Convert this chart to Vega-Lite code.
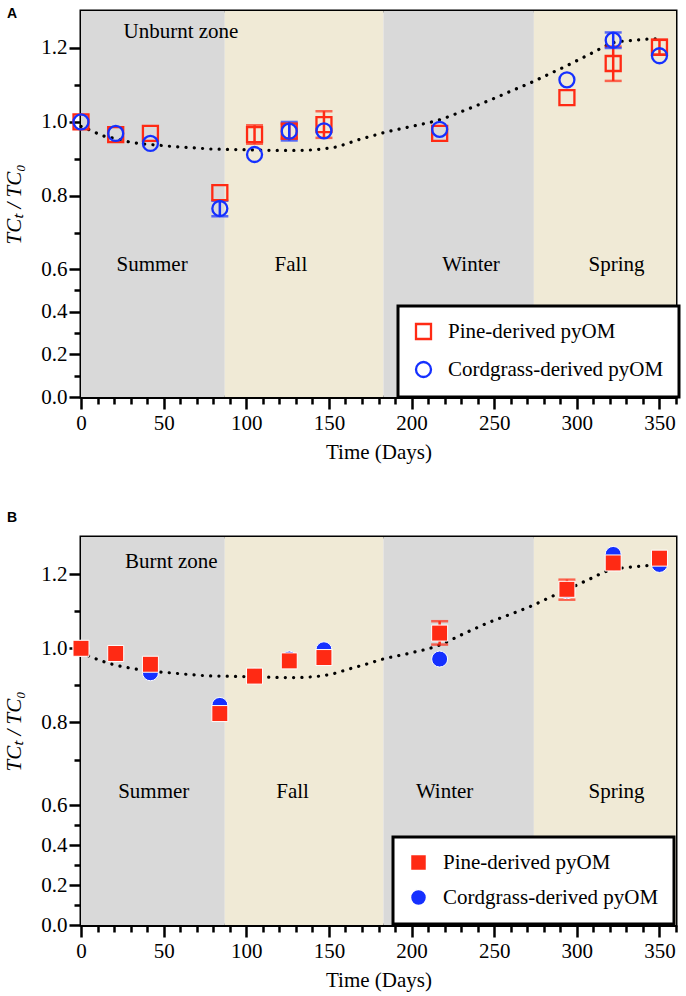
{
  "$schema": "https://vega.github.io/schema/vega-lite/v6.json",
  "background": "white",
  "padding": {"left": 2, "top": 5, "right": 5, "bottom": 5},
  "spacing": 45,
  "resolve": {
    "scale": {"color": "independent", "shape": "independent", "fill": "independent"},
    "legend": {"color": "independent", "shape": "independent", "fill": "independent"}
  },
  "datasets": {
    "seasons": [
      {"season": "Summer", "start": 0, "end": 87},
      {"season": "Fall", "start": 87, "end": 183},
      {"season": "Winter", "start": 183, "end": 274},
      {"season": "Spring", "start": 274, "end": 360}
    ],
    "labelsA": [
      {"text": "Summer", "day": 43, "value": 0.62},
      {"text": "Fall", "day": 127, "value": 0.62},
      {"text": "Winter", "day": 236, "value": 0.62},
      {"text": "Spring", "day": 324, "value": 0.62},
      {"text": "Unburnt zone", "day": 60.5, "value": 1.244}
    ],
    "labelsB": [
      {"text": "Summer", "day": 44, "value": 0.64},
      {"text": "Fall", "day": 128, "value": 0.64},
      {"text": "Winter", "day": 220, "value": 0.64},
      {"text": "Spring", "day": 324, "value": 0.64},
      {"text": "Burnt zone", "day": 54.6, "value": 1.232}
    ],
    "curveA": [
      {"day": 0, "value": 0.988}, {"day": 7, "value": 0.975}, {"day": 13, "value": 0.963},
      {"day": 21, "value": 0.955}, {"day": 27, "value": 0.948}, {"day": 35, "value": 0.942},
      {"day": 47, "value": 0.937}, {"day": 57, "value": 0.933}, {"day": 68, "value": 0.93},
      {"day": 78, "value": 0.927}, {"day": 88, "value": 0.926}, {"day": 98, "value": 0.925},
      {"day": 108, "value": 0.924}, {"day": 118, "value": 0.923}, {"day": 128, "value": 0.923},
      {"day": 138, "value": 0.924}, {"day": 148, "value": 0.928}, {"day": 155, "value": 0.933},
      {"day": 160, "value": 0.94}, {"day": 168, "value": 0.952}, {"day": 176, "value": 0.962},
      {"day": 184, "value": 0.972}, {"day": 200, "value": 0.988}, {"day": 217, "value": 1.006},
      {"day": 233, "value": 1.033}, {"day": 249, "value": 1.062}, {"day": 261, "value": 1.085},
      {"day": 273, "value": 1.108}, {"day": 283, "value": 1.129}, {"day": 293, "value": 1.15},
      {"day": 301, "value": 1.168}, {"day": 309, "value": 1.186}, {"day": 315, "value": 1.2},
      {"day": 321, "value": 1.213}, {"day": 327, "value": 1.218}, {"day": 333, "value": 1.22},
      {"day": 340, "value": 1.223}, {"day": 348, "value": 1.225}
    ],
    "curveB": [
      {"day": 0, "value": 0.99}, {"day": 2, "value": 0.985}, {"day": 10, "value": 0.97},
      {"day": 18, "value": 0.958}, {"day": 27, "value": 0.949}, {"day": 36, "value": 0.942},
      {"day": 46, "value": 0.937}, {"day": 56, "value": 0.933}, {"day": 66, "value": 0.929},
      {"day": 76, "value": 0.926}, {"day": 86, "value": 0.925}, {"day": 96, "value": 0.924},
      {"day": 106, "value": 0.923}, {"day": 116, "value": 0.922}, {"day": 126, "value": 0.921},
      {"day": 136, "value": 0.922}, {"day": 146, "value": 0.926}, {"day": 154, "value": 0.933},
      {"day": 162, "value": 0.944}, {"day": 166, "value": 0.949}, {"day": 174, "value": 0.959},
      {"day": 182, "value": 0.97}, {"day": 200, "value": 0.988}, {"day": 216, "value": 1.007},
      {"day": 231, "value": 1.038}, {"day": 247, "value": 1.07}, {"day": 260, "value": 1.092},
      {"day": 273, "value": 1.115}, {"day": 284, "value": 1.138}, {"day": 295, "value": 1.16},
      {"day": 307, "value": 1.185}, {"day": 319, "value": 1.209}, {"day": 325, "value": 1.215},
      {"day": 331, "value": 1.218}, {"day": 343, "value": 1.223}, {"day": 350, "value": 1.224}
    ],
    "pointsA": [
      {"series": "Pine-derived pyOM", "day": 0, "value": 1.0},
      {"series": "Pine-derived pyOM", "day": 21, "value": 0.966},
      {"series": "Pine-derived pyOM", "day": 42, "value": 0.969},
      {"series": "Pine-derived pyOM", "day": 84, "value": 0.809},
      {"series": "Pine-derived pyOM", "day": 105, "value": 0.966, "lo": 0.941, "hi": 0.991},
      {"series": "Pine-derived pyOM", "day": 126, "value": 0.975, "lo": 0.955, "hi": 0.995},
      {"series": "Pine-derived pyOM", "day": 147, "value": 0.993, "lo": 0.957, "hi": 1.029},
      {"series": "Pine-derived pyOM", "day": 217, "value": 0.969},
      {"series": "Pine-derived pyOM", "day": 294, "value": 1.066},
      {"series": "Pine-derived pyOM", "day": 322, "value": 1.158, "lo": 1.111, "hi": 1.204},
      {"series": "Pine-derived pyOM", "day": 350, "value": 1.202, "lo": 1.182, "hi": 1.222},
      {"series": "Cordgrass-derived pyOM", "day": 0, "value": 1.0},
      {"series": "Cordgrass-derived pyOM", "day": 21, "value": 0.969},
      {"series": "Cordgrass-derived pyOM", "day": 42, "value": 0.942},
      {"series": "Cordgrass-derived pyOM", "day": 84, "value": 0.766, "lo": 0.745, "hi": 0.787},
      {"series": "Cordgrass-derived pyOM", "day": 105, "value": 0.912},
      {"series": "Cordgrass-derived pyOM", "day": 126, "value": 0.975, "lo": 0.95, "hi": 1.0},
      {"series": "Cordgrass-derived pyOM", "day": 147, "value": 0.976},
      {"series": "Cordgrass-derived pyOM", "day": 217, "value": 0.98},
      {"series": "Cordgrass-derived pyOM", "day": 294, "value": 1.114},
      {"series": "Cordgrass-derived pyOM", "day": 322, "value": 1.221, "lo": 1.2, "hi": 1.242},
      {"series": "Cordgrass-derived pyOM", "day": 350, "value": 1.179}
    ],
    "pointsB": [
      {"series": "Cordgrass-derived pyOM", "day": 0, "value": 1.0},
      {"series": "Cordgrass-derived pyOM", "day": 21, "value": 0.985},
      {"series": "Cordgrass-derived pyOM", "day": 42, "value": 0.934},
      {"series": "Cordgrass-derived pyOM", "day": 84, "value": 0.846},
      {"series": "Cordgrass-derived pyOM", "day": 105, "value": 0.925},
      {"series": "Cordgrass-derived pyOM", "day": 126, "value": 0.971},
      {"series": "Cordgrass-derived pyOM", "day": 147, "value": 0.996},
      {"series": "Cordgrass-derived pyOM", "day": 217, "value": 0.971},
      {"series": "Cordgrass-derived pyOM", "day": 294, "value": 1.155},
      {"series": "Cordgrass-derived pyOM", "day": 322, "value": 1.253},
      {"series": "Cordgrass-derived pyOM", "day": 350, "value": 1.226},
      {"series": "Pine-derived pyOM", "day": 0, "value": 1.0},
      {"series": "Pine-derived pyOM", "day": 21, "value": 0.986},
      {"series": "Pine-derived pyOM", "day": 42, "value": 0.957},
      {"series": "Pine-derived pyOM", "day": 84, "value": 0.824},
      {"series": "Pine-derived pyOM", "day": 105, "value": 0.925},
      {"series": "Pine-derived pyOM", "day": 126, "value": 0.966},
      {"series": "Pine-derived pyOM", "day": 147, "value": 0.975},
      {"series": "Pine-derived pyOM", "day": 217, "value": 1.041, "lo": 1.01, "hi": 1.073},
      {"series": "Pine-derived pyOM", "day": 294, "value": 1.159, "lo": 1.131, "hi": 1.185},
      {"series": "Pine-derived pyOM", "day": 322, "value": 1.23},
      {"series": "Pine-derived pyOM", "day": 350, "value": 1.243}
    ]
  },
  "vconcat": [
    {
      "width": 595,
      "height": 386,
      "title": {"text": "A", "anchor": "start", "frame": "group", "font": "Liberation Sans", "fontSize": 14, "fontWeight": "bold", "color": "black", "dx": -74, "offset": -10, "baseline": "top"},
      "layer": [
        {
          "data": {"name": "seasons"},
          "mark": {"type": "rect"},
          "encoding": {
            "x": {"field": "start", "type": "quantitative", "title": "Time (Days)",
              "scale": {"domain": [0, 360], "nice": false, "zero": false},
              "axis": {"values": [0,10,20,30,40,50,60,70,80,90,100,110,120,130,140,150,160,170,180,190,200,210,220,230,240,250,260,270,280,290,300,310,320,330,340,350,360],
                "labelExpr": "datum.value % 50 === 0 ? datum.label : ''",
                "tickSize": {"condition": {"test": "datum.value % 50 === 0", "value": 12}, "value": 7},
                "labelFlush": false, "labelOverlap": false, "labelPadding": 3, "titlePadding": 8}},
            "x2": {"field": "end"},
            "fill": {"field": "season", "type": "nominal", "legend": null,
              "scale": {"domain": ["Summer", "Fall", "Winter", "Spring"], "range": ["#d9d9d9", "#f0ead6", "#d9d9d9", "#f0ead6"]}}
          }
        },
        {
          "data": {"name": "labelsA"},
          "mark": {"type": "text", "font": "Liberation Serif", "fontSize": 21, "color": "black", "align": "center", "baseline": "middle"},
          "encoding": {
            "x": {"field": "day", "type": "quantitative", "title": "Time (Days)",
              "scale": {"domain": [0, 360], "nice": false, "zero": false},
              "axis": {"values": [0,10,20,30,40,50,60,70,80,90,100,110,120,130,140,150,160,170,180,190,200,210,220,230,240,250,260,270,280,290,300,310,320,330,340,350,360],
                "labelExpr": "datum.value % 50 === 0 ? datum.label : ''",
                "tickSize": {"condition": {"test": "datum.value % 50 === 0", "value": 12}, "value": 7},
                "labelFlush": false, "labelOverlap": false, "labelPadding": 3, "titlePadding": 8}},
            "y": {"field": "value", "type": "quantitative", "title": "TCₜ / TC₀",
              "scale": {"domain": [0, 0.63, 0.67, 1.3], "range": [386, 251.8, 233, 0], "nice": false, "zero": false},
              "axis": {"values": [0,0.1,0.2,0.3,0.4,0.5,0.6,0.7,0.8,0.9,1.0,1.1,1.2],
                "labelExpr": "round(datum.value*10) % 2 === 0 ? format(datum.value, '.1f') : ''",
                "tickSize": {"condition": {"test": "round(datum.value*10) % 2 === 0", "value": 12}, "value": 7},
                "labelFlush": false, "labelOverlap": false, "labelPadding": 2, "titlePadding": 16, "titleFontStyle": "italic"}},
            "text": {"field": "text"}
          }
        },
        {
          "data": {"name": "curveA"},
          "mark": {"type": "line", "color": "black", "strokeWidth": 3.2, "strokeDash": [0.1, 8.2], "strokeCap": "round", "interpolate": "monotone"},
          "encoding": {
            "x": {"field": "day", "type": "quantitative", "title": "Time (Days)",
              "scale": {"domain": [0, 360], "nice": false, "zero": false},
              "axis": {"values": [0,10,20,30,40,50,60,70,80,90,100,110,120,130,140,150,160,170,180,190,200,210,220,230,240,250,260,270,280,290,300,310,320,330,340,350,360],
                "labelExpr": "datum.value % 50 === 0 ? datum.label : ''",
                "tickSize": {"condition": {"test": "datum.value % 50 === 0", "value": 12}, "value": 7},
                "labelFlush": false, "labelOverlap": false, "labelPadding": 3, "titlePadding": 8}},
            "y": {"field": "value", "type": "quantitative", "title": "TCₜ / TC₀",
              "scale": {"domain": [0, 0.63, 0.67, 1.3], "range": [386, 251.8, 233, 0], "nice": false, "zero": false},
              "axis": {"values": [0,0.1,0.2,0.3,0.4,0.5,0.6,0.7,0.8,0.9,1.0,1.1,1.2],
                "labelExpr": "round(datum.value*10) % 2 === 0 ? format(datum.value, '.1f') : ''",
                "tickSize": {"condition": {"test": "round(datum.value*10) % 2 === 0", "value": 12}, "value": 7},
                "labelFlush": false, "labelOverlap": false, "labelPadding": 2, "titlePadding": 16, "titleFontStyle": "italic"}}
          }
        },
        {
          "data": {"name": "pointsA"},
          "transform": [{"filter": "datum.lo != null && datum.series === 'Pine-derived pyOM'"}],
          "mark": {"type": "errorbar", "ticks": true, "size": 17, "thickness": 2.5, "color": "#ff2a14"},
          "encoding": {
            "x": {"field": "day", "type": "quantitative", "title": "Time (Days)",
              "scale": {"domain": [0, 360], "nice": false, "zero": false},
              "axis": {"values": [0,10,20,30,40,50,60,70,80,90,100,110,120,130,140,150,160,170,180,190,200,210,220,230,240,250,260,270,280,290,300,310,320,330,340,350,360],
                "labelExpr": "datum.value % 50 === 0 ? datum.label : ''",
                "tickSize": {"condition": {"test": "datum.value % 50 === 0", "value": 12}, "value": 7},
                "labelFlush": false, "labelOverlap": false, "labelPadding": 3, "titlePadding": 8}},
            "y": {"field": "lo", "type": "quantitative", "title": "TCₜ / TC₀",
              "scale": {"domain": [0, 0.63, 0.67, 1.3], "range": [386, 251.8, 233, 0], "nice": false, "zero": false},
              "axis": {"values": [0,0.1,0.2,0.3,0.4,0.5,0.6,0.7,0.8,0.9,1.0,1.1,1.2],
                "labelExpr": "round(datum.value*10) % 2 === 0 ? format(datum.value, '.1f') : ''",
                "tickSize": {"condition": {"test": "round(datum.value*10) % 2 === 0", "value": 12}, "value": 7},
                "labelFlush": false, "labelOverlap": false, "labelPadding": 2, "titlePadding": 16, "titleFontStyle": "italic"}},
            "y2": {"field": "hi"}
          }
        },
        {
          "data": {"name": "pointsA"},
          "transform": [{"filter": "datum.lo != null && datum.series === 'Cordgrass-derived pyOM'"}],
          "mark": {"type": "errorbar", "ticks": true, "size": 17, "thickness": 2.5, "color": "#1530ff"},
          "encoding": {
            "x": {"field": "day", "type": "quantitative", "title": "Time (Days)",
              "scale": {"domain": [0, 360], "nice": false, "zero": false},
              "axis": {"values": [0,10,20,30,40,50,60,70,80,90,100,110,120,130,140,150,160,170,180,190,200,210,220,230,240,250,260,270,280,290,300,310,320,330,340,350,360],
                "labelExpr": "datum.value % 50 === 0 ? datum.label : ''",
                "tickSize": {"condition": {"test": "datum.value % 50 === 0", "value": 12}, "value": 7},
                "labelFlush": false, "labelOverlap": false, "labelPadding": 3, "titlePadding": 8}},
            "y": {"field": "lo", "type": "quantitative", "title": "TCₜ / TC₀",
              "scale": {"domain": [0, 0.63, 0.67, 1.3], "range": [386, 251.8, 233, 0], "nice": false, "zero": false},
              "axis": {"values": [0,0.1,0.2,0.3,0.4,0.5,0.6,0.7,0.8,0.9,1.0,1.1,1.2],
                "labelExpr": "round(datum.value*10) % 2 === 0 ? format(datum.value, '.1f') : ''",
                "tickSize": {"condition": {"test": "round(datum.value*10) % 2 === 0", "value": 12}, "value": 7},
                "labelFlush": false, "labelOverlap": false, "labelPadding": 2, "titlePadding": 16, "titleFontStyle": "italic"}},
            "y2": {"field": "hi"}
          }
        },
        {
          "data": {"name": "pointsA"},
          "mark": {"type": "point", "filled": false, "strokeWidth": 2.3, "opacity": 1, "size": 225},
          "encoding": {
            "x": {"field": "day", "type": "quantitative", "title": "Time (Days)",
              "scale": {"domain": [0, 360], "nice": false, "zero": false},
              "axis": {"values": [0,10,20,30,40,50,60,70,80,90,100,110,120,130,140,150,160,170,180,190,200,210,220,230,240,250,260,270,280,290,300,310,320,330,340,350,360],
                "labelExpr": "datum.value % 50 === 0 ? datum.label : ''",
                "tickSize": {"condition": {"test": "datum.value % 50 === 0", "value": 12}, "value": 7},
                "labelFlush": false, "labelOverlap": false, "labelPadding": 3, "titlePadding": 8}},
            "y": {"field": "value", "type": "quantitative", "title": "TCₜ / TC₀",
              "scale": {"domain": [0, 0.63, 0.67, 1.3], "range": [386, 251.8, 233, 0], "nice": false, "zero": false},
              "axis": {"values": [0,0.1,0.2,0.3,0.4,0.5,0.6,0.7,0.8,0.9,1.0,1.1,1.2],
                "labelExpr": "round(datum.value*10) % 2 === 0 ? format(datum.value, '.1f') : ''",
                "tickSize": {"condition": {"test": "round(datum.value*10) % 2 === 0", "value": 12}, "value": 7},
                "labelFlush": false, "labelOverlap": false, "labelPadding": 2, "titlePadding": 16, "titleFontStyle": "italic"}},
            "color": {"field": "series", "type": "nominal",
              "scale": {"domain": ["Pine-derived pyOM", "Cordgrass-derived pyOM"], "range": ["#ff2a14", "#1530ff"]},
              "legend": {"title": null, "orient": "none", "legendX": 317, "legendY": 295, "direction": "vertical", "symbolSize": 225, "symbolStrokeWidth": 2.3, "zindex": 2, "labelFont": "Liberation Serif", "labelFontSize": 21, "padding": 15, "rowPadding": 13}},
            "shape": {"field": "series", "type": "nominal",
              "scale": {"domain": ["Pine-derived pyOM", "Cordgrass-derived pyOM"], "range": ["square", "circle"]},
              "legend": {"title": null, "orient": "none", "legendX": 317, "legendY": 295, "direction": "vertical", "symbolSize": 225, "symbolStrokeWidth": 2.3, "zindex": 2, "labelFont": "Liberation Serif", "labelFontSize": 21, "padding": 15, "rowPadding": 13}}
          }
        }
      ]
    },
    {
      "width": 595,
      "height": 388,
      "title": {"text": "B", "anchor": "start", "frame": "group", "font": "Liberation Sans", "fontSize": 14, "fontWeight": "bold", "color": "black", "dx": -74, "offset": 12},
      "layer": [
        {
          "data": {"name": "seasons"},
          "mark": {"type": "rect"},
          "encoding": {
            "x": {"field": "start", "type": "quantitative", "title": "Time (Days)",
              "scale": {"domain": [0, 360], "nice": false, "zero": false},
              "axis": {"values": [0,10,20,30,40,50,60,70,80,90,100,110,120,130,140,150,160,170,180,190,200,210,220,230,240,250,260,270,280,290,300,310,320,330,340,350,360],
                "labelExpr": "datum.value % 50 === 0 ? datum.label : ''",
                "tickSize": {"condition": {"test": "datum.value % 50 === 0", "value": 12}, "value": 7},
                "labelFlush": false, "labelOverlap": false, "labelPadding": 3, "titlePadding": 8}},
            "x2": {"field": "end"},
            "fill": {"field": "season", "type": "nominal", "legend": null,
              "scale": {"domain": ["Summer", "Fall", "Winter", "Spring"], "range": ["#d9d9d9", "#f0ead6", "#d9d9d9", "#f0ead6"]}}
          }
        },
        {
          "data": {"name": "labelsB"},
          "mark": {"type": "text", "font": "Liberation Serif", "fontSize": 21, "color": "black", "align": "center", "baseline": "middle"},
          "encoding": {
            "x": {"field": "day", "type": "quantitative", "title": "Time (Days)",
              "scale": {"domain": [0, 360], "nice": false, "zero": false},
              "axis": {"values": [0,10,20,30,40,50,60,70,80,90,100,110,120,130,140,150,160,170,180,190,200,210,220,230,240,250,260,270,280,290,300,310,320,330,340,350,360],
                "labelExpr": "datum.value % 50 === 0 ? datum.label : ''",
                "tickSize": {"condition": {"test": "datum.value % 50 === 0", "value": 12}, "value": 7},
                "labelFlush": false, "labelOverlap": false, "labelPadding": 3, "titlePadding": 8}},
            "y": {"field": "value", "type": "quantitative", "title": "TCₜ / TC₀",
              "scale": {"domain": [0, 0.63, 0.67, 1.3], "range": [388, 262, 233.7, 0], "nice": false, "zero": false},
              "axis": {"values": [0,0.1,0.2,0.3,0.4,0.5,0.6,0.7,0.8,0.9,1.0,1.1,1.2],
                "labelExpr": "round(datum.value*10) % 2 === 0 ? format(datum.value, '.1f') : ''",
                "tickSize": {"condition": {"test": "round(datum.value*10) % 2 === 0", "value": 12}, "value": 7},
                "labelFlush": false, "labelOverlap": false, "labelPadding": 2, "titlePadding": 16, "titleFontStyle": "italic"}},
            "text": {"field": "text"}
          }
        },
        {
          "data": {"name": "curveB"},
          "mark": {"type": "line", "color": "black", "strokeWidth": 3.2, "strokeDash": [0.1, 8.2], "strokeCap": "round", "interpolate": "monotone"},
          "encoding": {
            "x": {"field": "day", "type": "quantitative", "title": "Time (Days)",
              "scale": {"domain": [0, 360], "nice": false, "zero": false},
              "axis": {"values": [0,10,20,30,40,50,60,70,80,90,100,110,120,130,140,150,160,170,180,190,200,210,220,230,240,250,260,270,280,290,300,310,320,330,340,350,360],
                "labelExpr": "datum.value % 50 === 0 ? datum.label : ''",
                "tickSize": {"condition": {"test": "datum.value % 50 === 0", "value": 12}, "value": 7},
                "labelFlush": false, "labelOverlap": false, "labelPadding": 3, "titlePadding": 8}},
            "y": {"field": "value", "type": "quantitative", "title": "TCₜ / TC₀",
              "scale": {"domain": [0, 0.63, 0.67, 1.3], "range": [388, 262, 233.7, 0], "nice": false, "zero": false},
              "axis": {"values": [0,0.1,0.2,0.3,0.4,0.5,0.6,0.7,0.8,0.9,1.0,1.1,1.2],
                "labelExpr": "round(datum.value*10) % 2 === 0 ? format(datum.value, '.1f') : ''",
                "tickSize": {"condition": {"test": "round(datum.value*10) % 2 === 0", "value": 12}, "value": 7},
                "labelFlush": false, "labelOverlap": false, "labelPadding": 2, "titlePadding": 16, "titleFontStyle": "italic"}}
          }
        },
        {
          "data": {"name": "pointsB"},
          "transform": [{"filter": "datum.lo != null && datum.series === 'Pine-derived pyOM'"}],
          "mark": {"type": "errorbar", "ticks": true, "size": 17, "thickness": 2.5, "color": "#ff2a14"},
          "encoding": {
            "x": {"field": "day", "type": "quantitative", "title": "Time (Days)",
              "scale": {"domain": [0, 360], "nice": false, "zero": false},
              "axis": {"values": [0,10,20,30,40,50,60,70,80,90,100,110,120,130,140,150,160,170,180,190,200,210,220,230,240,250,260,270,280,290,300,310,320,330,340,350,360],
                "labelExpr": "datum.value % 50 === 0 ? datum.label : ''",
                "tickSize": {"condition": {"test": "datum.value % 50 === 0", "value": 12}, "value": 7},
                "labelFlush": false, "labelOverlap": false, "labelPadding": 3, "titlePadding": 8}},
            "y": {"field": "lo", "type": "quantitative", "title": "TCₜ / TC₀",
              "scale": {"domain": [0, 0.63, 0.67, 1.3], "range": [388, 262, 233.7, 0], "nice": false, "zero": false},
              "axis": {"values": [0,0.1,0.2,0.3,0.4,0.5,0.6,0.7,0.8,0.9,1.0,1.1,1.2],
                "labelExpr": "round(datum.value*10) % 2 === 0 ? format(datum.value, '.1f') : ''",
                "tickSize": {"condition": {"test": "round(datum.value*10) % 2 === 0", "value": 12}, "value": 7},
                "labelFlush": false, "labelOverlap": false, "labelPadding": 2, "titlePadding": 16, "titleFontStyle": "italic"}},
            "y2": {"field": "hi"}
          }
        },
        {
          "data": {"name": "pointsB"},
          "mark": {"type": "point", "filled": true, "stroke": "white", "strokeWidth": 1, "opacity": 1, "size": 256},
          "encoding": {
            "x": {"field": "day", "type": "quantitative", "title": "Time (Days)",
              "scale": {"domain": [0, 360], "nice": false, "zero": false},
              "axis": {"values": [0,10,20,30,40,50,60,70,80,90,100,110,120,130,140,150,160,170,180,190,200,210,220,230,240,250,260,270,280,290,300,310,320,330,340,350,360],
                "labelExpr": "datum.value % 50 === 0 ? datum.label : ''",
                "tickSize": {"condition": {"test": "datum.value % 50 === 0", "value": 12}, "value": 7},
                "labelFlush": false, "labelOverlap": false, "labelPadding": 3, "titlePadding": 8}},
            "y": {"field": "value", "type": "quantitative", "title": "TCₜ / TC₀",
              "scale": {"domain": [0, 0.63, 0.67, 1.3], "range": [388, 262, 233.7, 0], "nice": false, "zero": false},
              "axis": {"values": [0,0.1,0.2,0.3,0.4,0.5,0.6,0.7,0.8,0.9,1.0,1.1,1.2],
                "labelExpr": "round(datum.value*10) % 2 === 0 ? format(datum.value, '.1f') : ''",
                "tickSize": {"condition": {"test": "round(datum.value*10) % 2 === 0", "value": 12}, "value": 7},
                "labelFlush": false, "labelOverlap": false, "labelPadding": 2, "titlePadding": 16, "titleFontStyle": "italic"}},
            "color": {"field": "series", "type": "nominal",
              "scale": {"domain": ["Pine-derived pyOM", "Cordgrass-derived pyOM"], "range": ["#ff2a14", "#1530ff"]},
              "legend": {"title": null, "orient": "none", "legendX": 312, "legendY": 300, "direction": "vertical", "symbolSize": 256, "zindex": 2, "labelFont": "Liberation Serif", "labelFontSize": 21, "padding": 15, "rowPadding": 12}},
            "shape": {"field": "series", "type": "nominal",
              "scale": {"domain": ["Pine-derived pyOM", "Cordgrass-derived pyOM"], "range": ["square", "circle"]},
              "legend": {"title": null, "orient": "none", "legendX": 312, "legendY": 300, "direction": "vertical", "symbolSize": 256, "zindex": 2, "labelFont": "Liberation Serif", "labelFontSize": 21, "padding": 15, "rowPadding": 12}}
          }
        }
      ]
    }
  ],
  "config": {
    "view": {"stroke": "black", "strokeWidth": 3},
    "font": "Liberation Serif",
    "axis": {"grid": false, "domainColor": "black", "domainWidth": 3, "tickColor": "black", "tickWidth": 2.5,
      "labelColor": "black", "labelFont": "Liberation Serif", "labelFontSize": 21,
      "titleColor": "black", "titleFont": "Liberation Serif", "titleFontSize": 21, "titleFontWeight": "normal"},
    "legend": {"fillColor": "white", "strokeColor": "black", "strokeWidth": 3, "padding": 13, "rowPadding": 12,
      "labelFont": "Liberation Serif", "labelFontSize": 21, "labelColor": "black", "labelOffset": 14, "labelLimit": 400}
  }
}
